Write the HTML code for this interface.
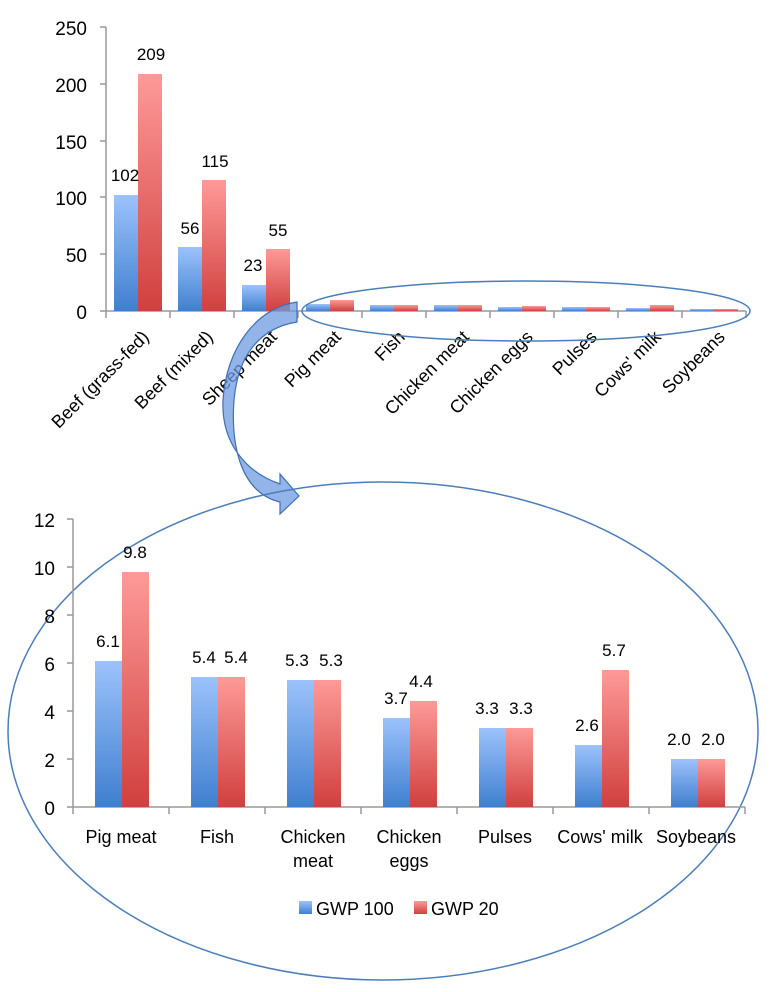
<!DOCTYPE html>
<html><head><meta charset="utf-8"><style>
html,body{margin:0;padding:0;background:#fff;}
svg{display:block;font-family:"Liberation Sans",sans-serif;}
</style></head><body>
<svg width="774" height="992" viewBox="0 0 774 992" xmlns="http://www.w3.org/2000/svg">
<defs>
<linearGradient id="gb" x1="0" y1="0" x2="0" y2="1"><stop offset="0" stop-color="#9cc2fb"/><stop offset="1" stop-color="#3f7fd0"/></linearGradient>
<linearGradient id="gr" x1="0" y1="0" x2="0" y2="1"><stop offset="0" stop-color="#fd9a99"/><stop offset="1" stop-color="#d0403e"/></linearGradient>
</defs>
<!-- TOP CHART -->
<g stroke="#999" stroke-width="1.5" fill="none">
<line x1="106" y1="27" x2="106" y2="318"/>
<line x1="106" y1="311" x2="746" y2="311"/>
</g>
<g stroke="#999" stroke-width="1.5">
<line x1="100" y1="27" x2="106" y2="27"/><line x1="100" y1="84" x2="106" y2="84"/><line x1="100" y1="141" x2="106" y2="141"/><line x1="100" y1="197" x2="106" y2="197"/><line x1="100" y1="254" x2="106" y2="254"/><line x1="100" y1="311" x2="106" y2="311"/>
<line x1="170" y1="311" x2="170" y2="318"/><line x1="234" y1="311" x2="234" y2="318"/><line x1="298" y1="311" x2="298" y2="318"/><line x1="362" y1="311" x2="362" y2="318"/><line x1="426" y1="311" x2="426" y2="318"/><line x1="490" y1="311" x2="490" y2="318"/><line x1="554" y1="311" x2="554" y2="318"/><line x1="618" y1="311" x2="618" y2="318"/><line x1="682" y1="311" x2="682" y2="318"/><line x1="746" y1="311" x2="746" y2="318"/>
</g>
<g font-size="19" fill="#000" text-anchor="end">
<text x="87" y="35">250</text><text x="87" y="92">200</text><text x="87" y="149">150</text><text x="87" y="205">100</text><text x="87" y="262">50</text><text x="87" y="319">0</text>
</g>
<g>
<rect x="114" y="195" width="24" height="116" fill="url(#gb)"/><rect x="138" y="74" width="24" height="237" fill="url(#gr)"/>
<rect x="178" y="247" width="24" height="64" fill="url(#gb)"/><rect x="202" y="180" width="24" height="131" fill="url(#gr)"/>
<rect x="242" y="285" width="24" height="26" fill="url(#gb)"/><rect x="266" y="249" width="24" height="62" fill="url(#gr)"/>
<rect x="306" y="304" width="24" height="7" fill="url(#gb)"/><rect x="330" y="300" width="24" height="11" fill="url(#gr)"/>
<rect x="370" y="305" width="24" height="6" fill="url(#gb)"/><rect x="394" y="305" width="24" height="6" fill="url(#gr)"/>
<rect x="434" y="305" width="24" height="6" fill="url(#gb)"/><rect x="458" y="305" width="24" height="6" fill="url(#gr)"/>
<rect x="498" y="307" width="24" height="4" fill="url(#gb)"/><rect x="522" y="306" width="24" height="5" fill="url(#gr)"/>
<rect x="562" y="307" width="24" height="4" fill="url(#gb)"/><rect x="586" y="307" width="24" height="4" fill="url(#gr)"/>
<rect x="626" y="308" width="24" height="3" fill="url(#gb)"/><rect x="650" y="305" width="24" height="6" fill="url(#gr)"/>
<rect x="690" y="309" width="24" height="2" fill="url(#gb)"/><rect x="714" y="309" width="24" height="2" fill="url(#gr)"/>
</g>
<g font-size="17" fill="#000" text-anchor="middle">
<text x="125" y="181">102</text><text x="151" y="60">209</text>
<text x="190" y="234">56</text><text x="215" y="167">115</text>
<text x="253" y="271">23</text><text x="278" y="236">55</text>
</g>
<g font-size="18" fill="#000" text-anchor="end">
<text transform="translate(150,338) rotate(-45)">Beef (grass-fed)</text>
<text transform="translate(214,338) rotate(-45)">Beef (mixed)</text>
<text transform="translate(278,338) rotate(-45)">Sheep meat</text>
<text transform="translate(342,338) rotate(-45)">Pig meat</text>
<text transform="translate(406,338) rotate(-45)">Fish</text>
<text transform="translate(470,338) rotate(-45)">Chicken meat</text>
<text transform="translate(534,338) rotate(-45)">Chicken eggs</text>
<text transform="translate(598,338) rotate(-45)">Pulses</text>
<text transform="translate(662,338) rotate(-45)">Cows' milk</text>
<text transform="translate(726,338) rotate(-45)">Soybeans</text>
</g>
<ellipse cx="526" cy="311" rx="224" ry="30" fill="none" stroke="#4a7ebb" stroke-width="1.5"/>
<!-- Arrow -->
<path d="M297,302 C255,308 226,350 223,400 C221,442 245,472 280,484 L280,474 L299,496 L280,514 L280,502 C238,492 231,440 234,400 C238,355 260,328 297,322 Z" fill="#6d9be0" fill-opacity="0.75" stroke="#3f6fb5" stroke-width="1.2"/>
<!-- BOTTOM CHART -->
<ellipse cx="383" cy="731" rx="375" ry="249" fill="none" stroke="#4a7ebb" stroke-width="1.5"/>
<g stroke="#999" stroke-width="1.5" fill="none">
<line x1="73" y1="519" x2="73" y2="814"/>
<line x1="73" y1="807" x2="745" y2="807"/>
</g>
<g stroke="#999" stroke-width="1.5">
<line x1="67" y1="519" x2="73" y2="519"/><line x1="67" y1="567" x2="73" y2="567"/><line x1="67" y1="615" x2="73" y2="615"/><line x1="67" y1="663" x2="73" y2="663"/><line x1="67" y1="711" x2="73" y2="711"/><line x1="67" y1="759" x2="73" y2="759"/><line x1="67" y1="807" x2="73" y2="807"/>
<line x1="169" y1="807" x2="169" y2="814"/><line x1="265" y1="807" x2="265" y2="814"/><line x1="361" y1="807" x2="361" y2="814"/><line x1="457" y1="807" x2="457" y2="814"/><line x1="553" y1="807" x2="553" y2="814"/><line x1="649" y1="807" x2="649" y2="814"/><line x1="745" y1="807" x2="745" y2="814"/>
</g>
<g font-size="19" fill="#000" text-anchor="end">
<text x="55" y="527">12</text><text x="55" y="575">10</text><text x="55" y="623">8</text><text x="55" y="671">6</text><text x="55" y="719">4</text><text x="55" y="767">2</text><text x="55" y="815">0</text>
</g>
<g>
<rect x="95" y="661" width="27" height="146" fill="url(#gb)"/><rect x="122" y="572" width="27" height="235" fill="url(#gr)"/>
<rect x="191" y="677" width="27" height="130" fill="url(#gb)"/><rect x="218" y="677" width="27" height="130" fill="url(#gr)"/>
<rect x="287" y="680" width="27" height="127" fill="url(#gb)"/><rect x="314" y="680" width="27" height="127" fill="url(#gr)"/>
<rect x="383" y="718" width="27" height="89" fill="url(#gb)"/><rect x="410" y="701" width="27" height="106" fill="url(#gr)"/>
<rect x="479" y="728" width="27" height="79" fill="url(#gb)"/><rect x="506" y="728" width="27" height="79" fill="url(#gr)"/>
<rect x="575" y="745" width="27" height="62" fill="url(#gb)"/><rect x="602" y="670" width="27" height="137" fill="url(#gr)"/>
<rect x="671" y="759" width="27" height="48" fill="url(#gb)"/><rect x="698" y="759" width="27" height="48" fill="url(#gr)"/>
</g>
<g font-size="17" fill="#000" text-anchor="middle">
<text x="108" y="647">6.1</text><text x="135" y="558">9.8</text>
<text x="204" y="663">5.4</text><text x="236" y="663">5.4</text>
<text x="297" y="666">5.3</text><text x="331" y="666">5.3</text>
<text x="396" y="704">3.7</text><text x="421" y="687">4.4</text>
<text x="487" y="714">3.3</text><text x="521" y="714">3.3</text>
<text x="587" y="731">2.6</text><text x="614" y="656">5.7</text>
<text x="679" y="745">2.0</text><text x="713" y="745">2.0</text>
</g>
<g font-size="18" fill="#000" text-anchor="middle">
<text x="121" y="843">Pig meat</text>
<text x="217" y="843">Fish</text>
<text x="313" y="843">Chicken</text><text x="313" y="867">meat</text>
<text x="409" y="843">Chicken</text><text x="409" y="867">eggs</text>
<text x="505" y="843">Pulses</text>
<text x="600" y="843">Cows' milk</text>
<text x="696" y="843">Soybeans</text>
</g>
<rect x="299" y="901" width="13" height="13" fill="url(#gb)"/>
<text x="316" y="915" font-size="18">GWP 100</text>
<rect x="414" y="901" width="13" height="13" fill="url(#gr)"/>
<text x="431" y="915" font-size="18">GWP 20</text>
</svg>
</body></html>
